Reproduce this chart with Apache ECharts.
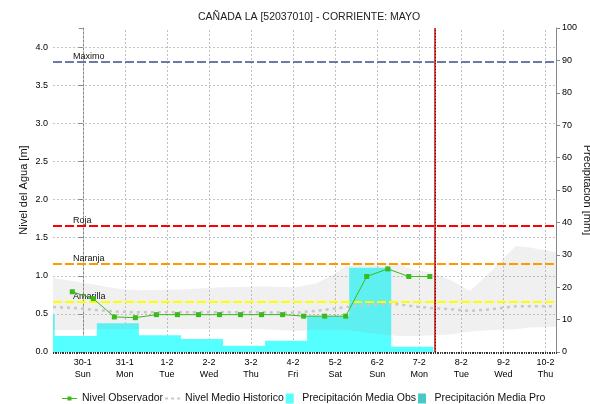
<!DOCTYPE html>
<html lang="es">
<head>
<meta charset="UTF-8">
<title>CAÑADA LA [52037010]</title>
<script src="https://cdn.jsdelivr.net/npm/echarts@6.0.0/dist/echarts.min.js"></script>
<style>html,body{margin:0;padding:0;background:#fff;}</style>
</head>
<body>
<div id="main" style="width:590px;height:404px;"></div>
<script>
// horas contadas desde 30-1 00:00
var dayDates = ['30-1', '31-1', '1-2', '2-2', '3-2', '4-2', '5-2', '6-2', '7-2', '8-2', '9-2', '10-2'];
var dayNames = ['Sun', 'Mon', 'Tue', 'Wed', 'Thu', 'Fri', 'Sat', 'Sun', 'Mon', 'Tue', 'Wed', 'Thu'];

// nivel observado (m)
var obsHours = [-6, 6, 18, 30, 42, 54, 66, 78, 90, 102, 114, 126, 138, 150, 162, 174, 186, 198];
var obsLevel = [0.79, 0.70, 0.46, 0.45, 0.49, 0.49, 0.49, 0.49, 0.49, 0.49, 0.49, 0.47, 0.47, 0.47, 0.99, 1.09, 0.99, 0.99];

// precipitacion diaria (mm), de 08:00 a 08:00
var precStart = [-40, -16, 8, 32, 56, 80, 104, 128, 152, 176];
var precMm = [11.7, 4.9, 8.9, 5.2, 4.0, 1.9, 3.5, 11.0, 26.0, 1.6];
var precEnd = 200;

// nivel medio historico y su banda (m)
var histHours = [-17, -6, 8, 20, 32, 56, 80, 104, 121, 133, 144, 150, 160, 170, 180, 190, 200, 210, 221, 233, 247, 255, 270];
var histMean = [0.59, 0.58, 0.55, 0.53, 0.52, 0.52, 0.52, 0.52, 0.515, 0.54, 0.57, 0.59, 0.61, 0.625, 0.625, 0.595, 0.575, 0.56, 0.54, 0.56, 0.60, 0.60, 0.60];
var histHigh = [0.97, 0.93, 0.88, 0.83, 0.81, 0.82, 0.85, 0.86, 0.85, 0.90, 1.03, 1.12, 1.16, 1.17, 1.15, 1.07, 1.04, 0.94, 0.80, 1.06, 1.39, 1.37, 1.31];
var histLow = [0.29, 0.29, 0.30, 0.30, 0.30, 0.30, 0.30, 0.30, 0.28, 0.29, 0.29, 0.29, 0.26, 0.23, 0.21, 0.21, 0.22, 0.23, 0.27, 0.29, 0.30, 0.32, 0.33];

// umbrales (m)
var levelNames = ['Maximo', 'Roja', 'Naranja', 'Amarilla'];
var levelValues = [3.81, 1.65, 1.16, 0.66];
var levelColors = ['#6b7ba6', '#ff0000', '#ff9900', '#ffff00'];

var nowHour = 201;

var font = "'Liberation Sans', Arial, sans-serif";

function zip(xs, ys) {
    var out = [];
    for (var i = 0; i < xs.length; i++) out.push([xs[i], ys[i]]);
    return out;
}

var precData = zip(precStart, precMm);
precData.push([precEnd, precMm[precMm.length - 1]]);

var bandData = [];
for (var i = 0; i < histHours.length; i++) {
    bandData.push([histHours[i], histHigh[i], histLow[i]]);
}

var gridLines = [];
for (var d = 0; d < dayDates.length; d++) {
    gridLines.push({ xAxis: d * 24 });
}

var levelLines = [];
for (var k = 0; k < levelNames.length; k++) {
    levelLines.push({
        yAxis: levelValues[k],
        name: levelNames[k],
        lineStyle: { color: levelColors[k], type: [9, 3], width: 2 }
    });
}

// banda historica: un solo poligono entre maximo y minimo
function renderBand(params, api) {
    if (params.dataIndex !== 0) return;
    var pts = [];
    for (var i = 0; i < bandData.length; i++) {
        pts.push(api.coord([bandData[i][0], bandData[i][1]]));
    }
    for (var j = bandData.length - 1; j >= 0; j--) {
        pts.push(api.coord([bandData[j][0], bandData[j][2]]));
    }
    return {
        type: 'polygon',
        shape: { points: pts },
        style: { fill: 'rgba(150,150,150,0.14)' }
    };
}

var myChart = echarts.init(document.getElementById('main'));

var option = {
    backgroundColor: '#fff',
    animation: false,
    textStyle: { fontFamily: font },
    title: {
        text: 'CAÑADA LA [52037010] - CORRIENTE: MAYO',
        left: 198,
        top: 12,
        padding: 0,
        textStyle: { fontSize: 10.5, fontWeight: 'normal', color: '#222', fontFamily: font }
    },
    legend: {
        left: 62,
        top: 393,
        padding: 0,
        itemWidth: 15,
        itemHeight: 10,
        itemGap: 2,
        selectedMode: false,
        textStyle: { fontSize: 10.5, color: '#111', fontFamily: font },
        data: [
            { name: 'Nivel Observador', icon: 'path://M0,4.5H15V5.5H0Z M5.5,3H9.5V7H5.5Z' },
            { name: 'Nivel Medio Historico', icon: 'path://M0,4H3V6H0Z M6,4H9V6H6Z M12,4H15V6H12Z' },
            { name: 'Precipitación Media Obs', icon: 'path://M0,0H8V10H0Z' },
            { name: 'Precipitación Media Pro', icon: 'path://M0,0H8V10H0Z' }
        ]
    },
    grid: { left: 53, right: 34, top: 28, bottom: 52, containLabel: false, outerBoundsMode: 'none' },
    xAxis: {
        type: 'value',
        min: -17,
        max: 270,
        interval: 1,
        axisLine: { show: false },
        axisTick: { show: true, length: 2, lineStyle: { color: '#333' } },
        splitLine: { show: false },
        axisLabel: {
            margin: 5,
            fontSize: 9,
            lineHeight: 12,
            color: '#000',
            fontFamily: font,
            formatter: function (v) {
                if (v >= 0 && v % 24 === 0) {
                    var i = v / 24;
                    if (i < dayDates.length) return dayDates[i] + '\n' + dayNames[i];
                }
                return '';
            }
        }
    },
    yAxis: [{
        type: 'value',
        min: 0,
        max: 4.25,
        interval: 0.5,
        position: 'left',
        name: 'Nivel del Agua [m]',
        nameLocation: 'middle',
        nameGap: 24,
        nameMoveOverlap: false,
        nameTextStyle: { fontSize: 11, color: '#111', fontFamily: font },
        axisLine: { show: true, lineStyle: { color: '#888' } },
        axisTick: { show: true, length: 4, lineStyle: { color: '#888' } },
        axisLabel: {
            margin: 5, fontSize: 9, color: '#000', fontFamily: font,
            formatter: function (v) { return v > 4.2 ? '' : v.toFixed(1); }
        },
        splitLine: { show: true, showMaxLine: false, lineStyle: { color: '#c4c4c4', type: [2, 2], width: 1 } }
    }, {
        type: 'value',
        min: 0,
        max: 100,
        interval: 10,
        position: 'right',
        name: 'Precipitación [mm]',
        nameLocation: 'middle',
        nameRotate: -90,
        nameGap: 26,
        nameMoveOverlap: false,
        nameTextStyle: { fontSize: 11, color: '#111', fontFamily: font },
        axisLine: { show: true, lineStyle: { color: '#888' } },
        axisTick: { show: true, length: 4, lineStyle: { color: '#888' } },
        axisLabel: { margin: 6, fontSize: 9, color: '#000', fontFamily: font },
        splitLine: { show: false }
    }],
    series: [{
        name: 'Precipitación Media Obs',
        type: 'line',
        yAxisIndex: 1,
        step: 'end',
        data: precData,
        symbol: 'none',
        silent: true,
        z: 2,
        itemStyle: { color: '#55ffff' },
        lineStyle: { width: 0 },
        areaStyle: { color: '#55ffff', opacity: 1 },
        markLine: {
            silent: true,
            z: 1,
            symbol: ['none', 'none'],
            label: { show: false },
            lineStyle: { color: '#c0c0c0', type: [2, 2], width: 1 },
            data: gridLines
        }
    }, {
        name: 'Precipitación Media Pro',
        type: 'bar',
        yAxisIndex: 1,
        data: [],
        itemStyle: { color: '#44c8c8' }
    }, {
        name: 'histBand',
        type: 'custom',
        renderItem: renderBand,
        data: bandData,
        encode: { x: 0, y: 1 },
        silent: true,
        z: 3
    }, {
        name: 'Nivel Medio Historico',
        type: 'line',
        data: zip(histHours, histMean),
        symbol: 'none',
        silent: true,
        z: 4,
        itemStyle: { color: '#c8c8c8' },
        lineStyle: { color: '#c8c8c8', width: 2.5, type: [3, 4] },
        markLine: {
            silent: true,
            z: 5,
            symbol: ['none', 'none'],
            label: {
                show: true,
                position: 'insideStartTop',
                distance: [20, 1],
                formatter: '{b}',
                fontSize: 9,
                color: '#111',
                fontFamily: font
            },
            data: levelLines
        }
    }, {
        name: 'Nivel Observador',
        type: 'line',
        data: zip(obsHours, obsLevel),
        symbol: 'rect',
        symbolSize: 5,
        z: 6,
        itemStyle: { color: '#3cb91c' },
        lineStyle: { color: '#3cb91c', width: 1 },
        markLine: {
            silent: true,
            z: 7,
            symbol: ['none', 'none'],
            label: { show: false },
            data: [
                { xAxis: nowHour, lineStyle: { color: '#dd0000', type: 'solid', width: 1.5 } },
                { xAxis: nowHour, lineStyle: { color: '#222', type: [1, 2], width: 1 } }
            ]
        }
    }]
};
myChart.setOption(option);
</script>
</body>
</html>
